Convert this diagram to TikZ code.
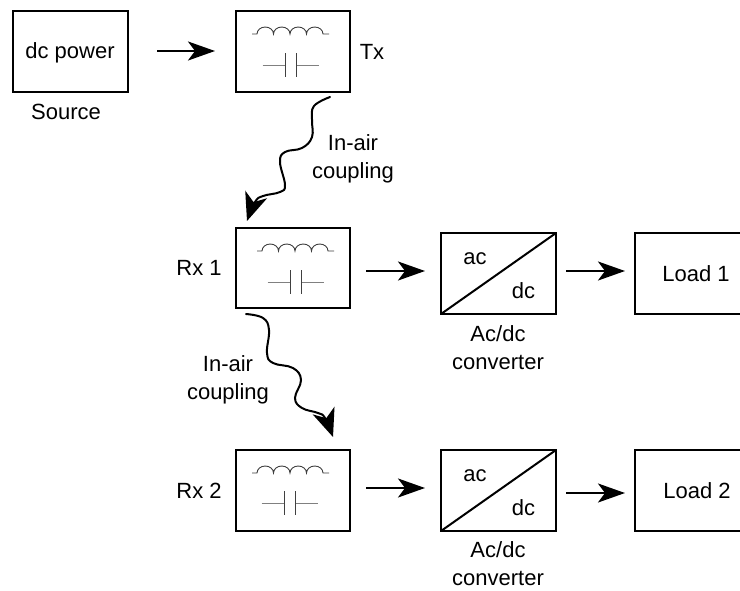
\documentclass[tikz,border=0pt]{standalone}
\usepackage{fontspec}
\setmainfont{Liberation Sans}
\usetikzlibrary{arrows.meta}
\tikzset{
  x=1pt,y=-1pt,
  block/.style={draw=black,line width=2pt,inner sep=0pt,outer sep=0pt,fill=white},
  lbl/.style={font=\fontsize{22}{28}\selectfont,align=center,inner sep=0pt},
  flow/.style={line width=2.2pt,-{Stealth[length=27pt,width=19pt,inset=7pt]}},
  wavy/.style={line width=2pt,line cap=round,-{Stealth[length=28pt,width=23pt,inset=8pt]}},
  lead/.style={line width=1pt,draw=black!50},
  plate/.style={line width=.9pt,draw=black!75},
}
\newcommand{\boxat}[5]{\node[block,minimum width=#3pt,minimum height=#4pt,anchor=north west] (#5) at (#1,#2) {};}
\newcommand{\reso}[4]{% ind x, ind y, cap x, cap y
  \draw[plate] (#1,#2) -- ++(5,0) arc[start angle=180,end angle=360,x radius=8.25,y radius=7]
   arc[start angle=180,end angle=360,x radius=8.25,y radius=7]
   arc[start angle=180,end angle=360,x radius=8.25,y radius=7]
   arc[start angle=180,end angle=360,x radius=8.25,y radius=7] -- ++(6,0);
  \draw[lead] (#3-28,#4) -- (#3-5.5,#4) (#3+5.5,#4) -- (#3+28,#4);
  \draw[plate] (#3-5.5,#4-12) -- (#3-5.5,#4+12) (#3+5.5,#4-12) -- (#3+5.5,#4+12);
}
\begin{document}
\begin{tikzpicture}
\useasboundingbox (0,0) rectangle (740,590);
\boxat{13}{11}{115}{81}{src}
\boxat{236}{11}{114}{81}{tx}
\boxat{236}{228}{114}{80}{rxa}
\boxat{441}{233}{115}{81}{cva}
\boxat{635}{233}{107}{81}{lda}
\boxat{236}{450}{114}{81}{rxb}
\boxat{441}{450}{115}{81}{cvb}
\boxat{635}{450}{107}{81}{ldb}
\node[lbl] (tsrc) at (70,53) {dc power};
\node[lbl] (tsource) at (66,112) {Source};
\node[lbl] (ttx) at (372,52) {Tx};
\node[lbl] (trxa) at (199,268) {Rx 1};
\node[lbl] (trxb) at (199,491) {Rx 2};
\node[lbl] (tlda) at (696,274) {Load 1};
\node[lbl] (tldb) at (697,491) {Load 2};
\node[lbl] (tcoupa) at (353,159) {In-air\\coupling};
\node[lbl] (tcoupb) at (228,380) {In-air\\coupling};
\node[lbl] (tcva) at (498,348) {Ac/dc\\converter};
\node[lbl] (tcvb) at (498,564) {Ac/dc\\converter};
\draw[line width=2pt] (cva.south west) -- (cva.north east);
\draw[line width=2pt] (cvb.south west) -- (cvb.north east);
\node[lbl] (aca) at (475,259) {ac};
\node[lbl] (dca) at (523.5,291) {dc};
\node[lbl] (acb) at (475,476) {ac};
\node[lbl] (dcb) at (523.5,508) {dc};
\reso{252}{34}{290.5}{65}
\reso{257}{251}{295.5}{282}
\reso{252}{473}{289.5}{503}
\coordinate (a1) at (157,51); \coordinate (a2) at (215,51);
\coordinate (b1) at (366,271); \coordinate (b2) at (425,271);
\coordinate (c1) at (566,271); \coordinate (c2) at (625,271);
\coordinate (d1) at (366,488); \coordinate (d2) at (425,488);
\coordinate (e1) at (566,493); \coordinate (e2) at (625,493);
\draw[flow] (a1) -- (a2);
\draw[flow] (b1) -- (b2);
\draw[flow] (c1) -- (c2);
\draw[flow] (d1) -- (d2);
\draw[flow] (e1) -- (e2);
\draw[wavy] plot[smooth,tension=.7] coordinates {(330,97) (314,106) (312,120) (312,137) (302,148) (285,152) (280,162) (285,185) (280,192) (263,196) (255,202) (247,221)};
\draw[wavy] plot[smooth,tension=.7] coordinates {(246,314) (263,318) (269,330) (267,353) (273,363) (293,368) (301,380) (295,398) (302,408) (318,413) (325,418) (333,437)};
\end{tikzpicture}
\end{document}
